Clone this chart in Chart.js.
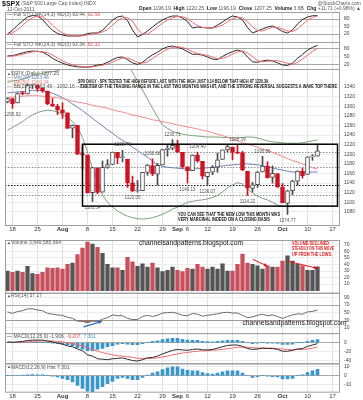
<!DOCTYPE html>
<html lang="en">
<head>
<meta charset="UTF-8">
<meta name="viewport" content="width=device-width, initial-scale=1">
<title>$SPX Daily | StockCharts</title>
<style>
	html, body { margin: 0; padding: 0; background: #fff; }
	#board { position: relative; width: 363px; height: 400px; overflow: hidden; }
	#board canvas { position: absolute; left: 0; }
</style>
</head>
<body>
<script src="https://cdn.jsdelivr.net/npm/chart.js@4.4.1/dist/chart.umd.min.js"></script>
<div id="board">
	<canvas id="upperChart" width="363" height="236" style="top:0;width:363px;height:236px"></canvas>
	<canvas id="lowerChart" width="363" height="167" style="top:233px;width:363px;height:167px"></canvas>
</div>
<script>
// trading days (plus a few empty future days on the right)
const days = ['7/15','7/18','7/19','7/20','7/21','7/22','7/25','7/26','7/27','7/28','7/29',
	'8/1','8/2','8/3','8/4','8/5','8/8','8/9','8/10','8/11','8/12','8/15','8/16','8/17','8/18','8/19',
	'8/22','8/23','8/24','8/25','8/26','8/29','8/30','8/31',
	'9/1','9/2','9/6','9/7','9/8','9/9','9/12','9/13','9/14','9/15','9/16','9/19','9/20','9/21','9/22','9/23',
	'9/26','9/27','9/28','9/29','9/30',
	'10/3','10/4','10/5','10/6','10/7','10/10','10/11','10/12','10/13','10/14','10/17','10/18']
const markDays = ['7/18','7/25','8/1','8/8','8/15','8/22','8/29','9/1','9/6','9/12','9/19','9/26','10/3','10/10','10/17']
const markText = ['18','25','Aug','8','15','22','29','Sep','6','12','19','26','Oct','10','17']

const prevClose = 1308.87
const openP = [1308.87,1315.94,1307.07,1328.66,1325.65,1343.80,1344.32,1337.39,1331.91,1304.84,
	1300.12,1292.59,1286.56,1254.25,1260.23,1200.28,1198.48,1120.23,1171.77,1121.30,
	1172.87,1178.86,1204.22,1192.89,1189.62,1140.47,1123.55,1124.36,1162.16,1176.69,
	1158.85,1177.91,1209.76,1213.00,1219.12,1203.90,1173.97,1165.85,1197.98,1185.37,
	1153.50,1162.59,1173.32,1189.44,1209.21,1214.99,1204.50,1203.63,1164.55,1128.82,
	1136.91,1163.32,1175.39,1151.74,1159.93,1131.21,1097.42,1124.03,1144.11,1165.03,
	1158.15,1194.60,1196.19]
const highP = [1317.70,1315.94,1328.14,1330.43,1347.00,1346.10,1344.32,1338.51,1331.91,1316.32,
	1304.16,1307.38,1286.56,1261.20,1260.23,1218.11,1198.48,1172.88,1171.77,1186.29,
	1189.04,1204.49,1204.22,1208.47,1189.62,1154.54,1145.49,1162.35,1178.56,1190.68,
	1181.23,1210.28,1220.10,1230.71,1229.29,1203.90,1173.97,1198.62,1204.40,1185.37,
	1162.52,1176.41,1202.38,1209.11,1220.06,1214.99,1220.39,1206.30,1164.55,1141.72,
	1164.19,1195.86,1184.71,1175.87,1159.93,1138.99,1125.12,1146.07,1165.55,1171.40,
	1194.91,1199.24,1220.25]
const lowP = [1307.04,1295.92,1307.07,1323.65,1325.65,1336.95,1331.09,1329.10,1303.49,1299.16,
	1282.86,1274.73,1254.03,1234.56,1199.54,1168.09,1119.28,1101.54,1118.01,1121.30,
	1170.74,1178.86,1180.53,1184.36,1131.03,1122.05,1121.09,1124.36,1156.30,1155.47,
	1135.91,1177.91,1195.77,1209.35,1203.85,1170.56,1140.13,1165.85,1183.34,1148.37,
	1136.07,1157.44,1162.73,1189.44,1204.46,1188.36,1201.29,1166.21,1114.22,1121.36,
	1131.07,1163.32,1150.40,1139.93,1131.34,1098.92,1074.77,1115.68,1134.95,1150.26,
	1158.15,1187.30,1196.19]
const closeP = [1316.14,1305.44,1326.73,1325.84,1343.80,1345.02,1337.43,1331.94,1304.89,1300.67,
	1292.28,1286.94,1254.05,1260.34,1200.07,1199.38,1119.46,1172.53,1120.76,1172.64,
	1178.81,1204.49,1192.76,1193.89,1140.65,1123.53,1123.82,1162.35,1177.60,1159.27,
	1176.80,1210.08,1212.92,1218.89,1204.42,1173.97,1165.24,1198.62,1185.90,1154.23,
	1162.27,1172.87,1188.68,1209.11,1216.01,1204.09,1202.09,1166.76,1129.56,1136.43,
	1162.95,1175.38,1151.06,1160.40,1131.42,1099.23,1123.95,1144.03,1164.97,1155.46,
	1194.89,1195.54,1207.25]

const ma20 = [1328,1329,1330,1331,1332,1333,1334,1332,1330,1327,1323,1318,1312,1305,1298,1291,1283,1275,1267,1259,
	1251,1244,1236,1229,1223,1215,1208,1201,1194,1186,1178,1175,1173,1172,1171,1170,1169,1169,1170,1171,
	1172,1173,1174,1176,1177,1178,1179,1180,1180,1179,1178,1176,1174,1172,1169,1167,1165,1163,1163,1163,
	1163,1163,1163.46]
const ma50 = [1318,1319,1320,1321,1322,1322,1322,1321,1320,1319,1318,1316,1314,1311,1309,1307,1305,1302,1300,1298,
	1296,1293,1290,1288,1285,1282,1280,1277,1275,1272,1270,1268,1266,1264,1261,1259,1257,1255,1253,1250,
	1248,1245,1242,1239,1236,1232,1228,1224,1221,1218,1215,1211,1208,1204,1200,1195,1191,1187,1184,1180,
	1176,1172,1169.34]
const bbUpper = [1352,1353,1354,1356,1360,1364,1367,1369,1371,1372,1374,1378,1384,1392,1400,1410,1420,1425,1428,1428,
	1425,1418,1408,1398,1385,1371,1352,1334,1315,1296,1278,1261,1254,1248,1244,1242,1240,1239,1238,1237,
	1236,1236,1236,1235,1235,1234,1234,1235,1236,1236,1234,1231,1228,1226,1225,1224,1223,1223,1223,1224,
	1226,1228,1230.12]
const bbLower = [1250,1256,1262,1268,1276,1282,1287,1290,1292,1291,1288,1283,1277,1268,1257,1235,1205,1170,1145,1115,
	1100,1090,1082,1076,1071,1068,1066,1065,1066,1068,1071,1075,1080,1086,1090,1095,1100,1102,1104,1105,
	1107,1110,1114,1122,1130,1136,1141,1138,1128,1119,1113,1108,1105,1100,1094,1092,1091,1091,1092,1092,
	1092,1092,1092.16]

const stoK1 = [20,35,55,72,88,94,92,78,55,35,22,16,12,12,12,14,22,24,24,35,55,76,88,92,74,36,8,18,32,48,
	64,76,86,92,92,84,70,44,48,46,44,44,56,68,82,92,88,76,46,24,32,40,48,52,42,30,24,36,60,78,88,93,93.44]
const stoD1 = [18,25,37,54,72,85,91,88,75,56,37,24,17,13,12,13,16,20,23,28,38,55,73,85,85,72,40,20,20,33,
	48,63,75,85,90,89,82,66,54,46,46,44,48,56,69,81,87,85,69,49,34,32,40,47,47,40,32,30,40,58,75,86,92.58]
const stoK2 = [54,55,60,65,70,72,71,68,58,45,35,27,20,16,13,12,12,15,20,22,30,40,48,50,40,28,22,30,45,58,
	68,80,88,91,86,80,70,60,60,57,50,42,40,52,62,70,76,70,50,32,30,35,38,35,28,20,18,27,45,60,75,86,93.34]
const stoD2 = [52,53,56,60,65,69,71,70,66,57,46,36,27,21,16,14,12,13,16,19,24,31,39,46,46,39,30,27,32,44,
	57,69,79,86,88,86,79,70,63,59,56,50,44,45,51,61,69,72,65,51,37,32,34,36,36,32,26,22,30,42,57,71,82.32]

// volume in units of 100M shares
const volume = [30,28,30,28,37,26,25,28,35,34,35,33,40,42,55,65,74,71,66,57,40,35,35,31,51,44,37,41,36,42,
	35,29,31,36,31,29,34,33,40,36,33,36,33,41,30,30,40,56,42,40,38,33,38,36,36,45,53,45,40,38,31,31,36.49585664]
const rsi = [52,48,53,55,60,60,57,55,48,46,44,43,38,35,28,27,24,28,27,33,37,44,42,42,35,32,32,40,43,40,
	43,49,50,51,48,43,42,48,46,41,43,45,47,50,51,49,49,43,37,39,43,46,42,44,40,35,40,44,47,46,52,53,57.17]
const macdLine = [2,1,2,3,5,6,6,6,4,2,-1,-3,-7,-9,-14,-18,-27,-30,-36,-37,-38,-36,-35,-34,-37,-40,-41,-38,-34,-33,
	-30,-25,-21,-17,-15,-16,-17,-15,-14,-16,-16,-15,-12,-9,-6,-5,-5,-8,-13,-15,-14,-12,-13,-13,-15,-19,-19,-17,-14,-13,
	-8,-5,-1.906]
const macdSignal = [1,1,1,1.5,2,3,3.5,4,4,4,3,2,0,-2,-4,-7,-11,-15,-19,-22,-25,-27,-29,-30,-31,-33,-35,-35,-35,-35,
	-34,-32,-30,-27,-25,-23,-22,-20,-19,-18,-18,-17,-16,-15,-13,-12,-10,-10,-10,-11,-12,-12,-12,-12,-13,-14,-15,-16,-15,-15,
	-14,-12,-9.207]
const macdHist = [0.3,0.5,0.5,0.8,1,1.2,1,1,0.3,-0.5,-1.5,-3,-4.5,-7,-11,-14.5,-17.5,-18,-15,-12.5,-9,-6.5,-3,-2,-3,-4.5,-4.5,-2,0.8,3,
	4.5,7,9,10,10,7.5,6,5.5,5.5,3.5,2.5,2,3,4.5,5.5,5.5,5.5,3,0,-2,-1,0.3,-0.5,-1,-1.5,-3.5,-3.5,-3,0.3,1,
	3.5,5.5,7.301]

// marked highs and lows, and the drawn support levels
const labelDays = ['7/18','8/9','8/17','8/19','8/25','8/31','9/6','9/8','9/12','9/20','9/22','9/27','10/4']
const labelSide = ['low','low','high','low','high','high','low','high','low','high','low','high','low']
const levels = [1204.40, 1172.64, 1136.07, 1114.22]
const keyLevel = 1136.07

const FONT = '"Liberation Sans", Arial, sans-serif'
Chart.defaults.font.family = FONT
Chart.defaults.animation = false

const RED = '#cf1020'
const DARK = '#4a4a4a'
const markIdx = markDays.map(d => days.indexOf(d))
const idx = d => days.indexOf(d)

function runs(ctx, parts, x, y, align) {
	ctx.save()
	ctx.textBaseline = 'middle'
	ctx.textAlign = 'left'
	const fontOf = p => `${p[3] ? 'bold ' : ''}${p[2] || 5}px ${FONT}`
	let total = 0
	parts.forEach(p => { ctx.font = fontOf(p); total += ctx.measureText(p[0]).width })
	if(align === 'right') x -= total
	parts.forEach(p => {
		ctx.font = fontOf(p)
		ctx.fillStyle = p[1]
		ctx.fillText(p[0], x, y)
		x += ctx.measureText(p[0]).width
	})
	ctx.restore()
}

function say(ctx, s, x, y, o) {
	ctx.save()
	ctx.font = `${o.bold ? 'bold ' : ''}${o.size}px ${FONT}`
	ctx.fillStyle = o.color
	ctx.textAlign = o.align || 'left'
	ctx.textBaseline = 'middle'
	if(o.fit) ctx.fillText(s, x, y, o.fit)
	else ctx.fillText(s, x, y)
	ctx.restore()
}

function arrow(ctx, x1, y1, x2, y2, color, w) {
	const ang = Math.atan2(y2 - y1, x2 - x1), h = 4
	ctx.save()
	ctx.strokeStyle = color
	ctx.fillStyle = color
	ctx.lineWidth = w
	ctx.beginPath(); ctx.moveTo(x1, y1); ctx.lineTo(x2, y2); ctx.stroke()
	ctx.beginPath()
	ctx.moveTo(x2, y2)
	ctx.lineTo(x2 - h * Math.cos(ang - 0.45), y2 - h * Math.sin(ang - 0.45))
	ctx.lineTo(x2 - h * Math.cos(ang + 0.45), y2 - h * Math.sin(ang + 0.45))
	ctx.closePath(); ctx.fill()
	ctx.restore()
}

function frames(chart, ids) {
	const {ctx, chartArea: a} = chart
	ctx.save()
	ctx.strokeStyle = '#a0a0a0'
	ctx.lineWidth = 1
	ids.forEach(id => {
		const s = chart.scales[id]
		ctx.strokeRect(a.left + 0.5, Math.round(s.top) + 0.5, a.right - a.left - 1, s.bottom - s.top)
	})
	ctx.restore()
}

// keep every dataset inside its own panel
function clipToPanel(chart, args) {
	const {xScale, yScale} = args.meta
	const ctx = chart.ctx
	ctx.save()
	ctx.beginPath()
	ctx.rect(xScale.left, yScale.top, xScale.right - xScale.left, yScale.bottom - yScale.top)
	ctx.clip()
}

function dateAxis(h) {
	return {
		type: 'category',
		offset: true,
		afterFit: s => { s.height = h },
		border: { display: false },
		grid: {
			offset: false,
			drawTicks: false,
			color: c => markIdx.includes(c.index) ? '#e0e0e0' : 'rgba(0,0,0,0)'
		},
		ticks: {
			autoSkip: false,
			maxRotation: 0,
			padding: 1,
			color: '#333',
			font: c => ({ size: 6, weight: /[A-Z]/.test(markText[markIdx.indexOf(c.index)] || '') ? 'bold' : 'normal' }),
			callback: (v, i) => {
				const k = markIdx.indexOf(i)
				return k < 0 ? '' : markText[k]
			}
		}
	}
}

function panelAxis(weight, min, max, tickVals, strong) {
	return {
		type: 'linear',
		position: 'right',
		stack: 'panels',
		stackWeight: weight,
		min: min,
		max: max,
		afterBuildTicks: s => { s.ticks = tickVals.map(v => ({ value: v })) },
		afterFit: s => { s.width = 23 },
		border: { display: false },
		grid: {
			drawTicks: false,
			color: c => c.tick && strong.includes(c.tick.value) ? '#a8a8a8' : '#ececec'
		},
		ticks: { autoSkip: false, font: { size: 5 }, color: '#444', padding: 4, callback: v => String(v) }
	}
}

const line = (data, color, yAxisID, extra) => Object.assign({
	type: 'line', data, yAxisID, borderColor: color, borderWidth: 1,
	pointRadius: 0, tension: 0, fill: false, order: 5
}, extra || {})

const candleColor = closeP.map((c, i) => c < (i ? closeP[i - 1] : prevClose) ? RED : DARK)
const hollow = closeP.map((c, i) => c >= openP[i])

const upperDecor = {
	id: 'upperDecor',
	beforeDatasetDraw: clipToPanel,
	afterDatasetDraw: chart => chart.ctx.restore(),
	beforeDatasetsDraw(chart) {
		const {ctx, chartArea: a, scales: {yPrice}} = chart
		ctx.save()
		ctx.lineWidth = 1
		ctx.setLineDash([1.5, 1.5])
		levels.forEach(v => {
			const y = Math.round(yPrice.getPixelForValue(v)) + 0.5
			ctx.strokeStyle = v === keyLevel ? '#1a1a1a' : '#8c8c8c'
			ctx.beginPath(); ctx.moveTo(a.left, y); ctx.lineTo(a.right, y); ctx.stroke()
		})
		ctx.restore()
	},
	afterDraw(chart) {
		const {ctx, scales: {x, yS1, yS2, yPrice}, chartArea: a} = chart
		frames(chart, ['yS1', 'yS2', 'yPrice'])

		// trading range box
		ctx.save()
		ctx.strokeStyle = '#000'
		ctx.lineWidth = 1.5
		const bx1 = x.getPixelForValue(idx('8/5')), bx2 = x.getPixelForValue(idx('10/18'))
		const by1 = yPrice.getPixelForValue(1221), by2 = yPrice.getPixelForValue(1092)
		ctx.strokeRect(bx1, by1, bx2 - bx1, by2 - by1)
		ctx.restore()

		// high / low labels
		labelDays.forEach((d, k) => {
			const i = idx(d)
			const hi = labelSide[k] === 'high'
			const v = hi ? highP[i] : lowP[i]
			say(ctx, v.toFixed(2), x.getPixelForValue(i), yPrice.getPixelForValue(v) + (hi ? -5 : 6.5),
				{ size: 4.5, color: '#555', align: 'center' })
		})

		// comments
		say(ctx, 'SPX DAILY - SPX TESTED THE HIGH BEFORE LAST, WITH THE HIGH JUST 0.14 BELOW THAT HIGH AT 1220.39',
			x.getPixelForValue(14.1), yPrice.getPixelForValue(1352), { size: 4.6, bold: true, color: '#111', fit: 190 })
		say(ctx, '- THE TOP OF THE TRADING RANGE IN THE LAST TWO MONTHS WAS HIT, AND THE STRONG REVERSAL SUGGESTS A WAVE TOP THERE',
			x.getPixelForValue(14.1), yPrice.getPixelForValue(1340), { size: 4.6, bold: true, color: '#111', fit: 259 })
		say(ctx, 'YOU CAN SEE THAT THE NEW LOW THIS MONTH WAS',
			x.getPixelForValue(34.1), yPrice.getPixelForValue(1073.5), { size: 4.6, bold: true, color: '#111', fit: 102 })
		say(ctx, 'VERY MARGINAL INDEED ON A CLOSING BASIS',
			x.getPixelForValue(34.1), yPrice.getPixelForValue(1063), { size: 4.6, bold: true, color: '#111', fit: 92 })

		// panel legends
		const L = a.left + 2
		runs(ctx, [['\u2014', '#333'], [' Full STO %K(14,3) %D(3) ' + stoK1.at(-1).toFixed(2) + ', ', '#555'], [stoD1.at(-1).toFixed(2), '#e05050']], L, yS1.top + 3)
		runs(ctx, [['\u2014', '#333'], [' Full STO %K(24,3) %D(3) ' + stoK2.at(-1).toFixed(2) + ', ', '#555'], [stoD2.at(-1).toFixed(2), '#e05050']], L, yS2.top + 3)
		const pt = yPrice.top
		runs(ctx, [['\u25b2', '#555', 4], ['$SPX (Daily) ' + closeP.at(-1).toFixed(2), '#555']], L, pt + 4.5)
		runs(ctx, [['\u2014 MA(20) ' + ma20.at(-1).toFixed(2), '#6d7db0']], L, pt + 9)
		runs(ctx, [['\u2014 MA(50) ' + ma50.at(-1).toFixed(2), '#ec7d7d']], L, pt + 13.5)
		runs(ctx, [['\u2014', '#7aa27a'], [' BB(20,2) ' + ma20.at(-1).toFixed(2) + ' - ' + bbLower.at(-1).toFixed(2) + ' - ' + bbUpper.at(-1).toFixed(2), '#555']], L, pt + 18)

		// header
		runs(ctx, [['$SPX', '#111', 7, true], [' (S&P 500 Large Cap Index) INDX', '#555', 5]], 2, 4)
		say(ctx, '12-Oct-2011', 7, 10, { size: 5, color: '#555' })
		say(ctx, '@StockCharts.com', 361, 3.5, { size: 5, color: '#555', align: 'right' })
		runs(ctx, [
			['Open ', '#222', 5, true], ['1196.19  ', '#555', 5],
			['High ', '#222', 5, true], ['1220.25  ', '#555', 5],
			['Low ', '#222', 5, true], ['1196.19  ', '#555', 5],
			['Close ', '#222', 5, true], ['1207.25  ', '#555', 5],
			['Volume ', '#222', 5, true], ['3.6B  ', '#555', 5],
			['Chg ', '#222', 5, true], ['+11.71 (+0.98%) \u25b2', '#555', 5]
		], 361, 8.5, 'right')
	}
}

const lowerDecor = {
	id: 'lowerDecor',
	beforeDatasetDraw: clipToPanel,
	afterDatasetDraw: chart => chart.ctx.restore(),
	afterDraw(chart) {
		const {ctx, scales: {x, yVol, yRsi, yMacd, yHist}, chartArea: a} = chart
		frames(chart, ['yVol', 'yRsi', 'yMacd', 'yHist'])
		const L = a.left + 2
		runs(ctx, [['\u25b2', '#555', 4], ['Volume ' + Math.round(volume.at(-1) * 1e8).toLocaleString('en-US'), '#555']], L, yVol.top + 3)
		runs(ctx, [['\u25b2', '#555', 4], ['RSI(14) ' + rsi.at(-1).toFixed(2), '#555']], L, yRsi.top + 3)
		runs(ctx, [['\u2014', '#333'], [' MACD(12,26,9) ' + macdLine.at(-1).toFixed(3) + ', ', '#555'],
			[macdSignal.at(-1).toFixed(3) + ', ', '#e05050'], [macdHist.at(-1).toFixed(3), '#3b97c9']], L, yMacd.top + 4)
		runs(ctx, [['\u25b2', '#555', 4], ['MACD(12,26,9) Hist ' + macdHist.at(-1).toFixed(3), '#555']], L, yHist.top + 4)

		say(ctx, 'channelsandpatterns.blogspot.com', x.getPixelForValue(36.7), yVol.getPixelForValue(72),
			{ size: 6.8, color: '#111', align: 'center', fit: 104 })
		say(ctx, 'channelsandpatterns.blogspot.com', x.getPixelForValue(57.4), yRsi.getPixelForValue(23),
			{ size: 6.8, color: '#111', align: 'center', fit: 104 })

		const nx = x.getPixelForValue(56.9)
		say(ctx, 'VOLUME DECLINED', nx, yVol.getPixelForValue(71.5), { size: 4.6, bold: true, color: '#e01818', fit: 37 })
		say(ctx, 'STEADILY ON THIS MOVE', nx, yVol.getPixelForValue(64), { size: 4.6, bold: true, color: '#e01818', fit: 42 })
		say(ctx, 'UP FROM THE LOWS.', nx, yVol.getPixelForValue(55.5), { size: 4.6, bold: true, color: '#e01818', fit: 40 })

		arrow(ctx, x.getPixelForValue(49), yVol.getPixelForValue(48), x.getPixelForValue(52), yVol.getPixelForValue(37.5), '#e01818', 1)
		arrow(ctx, x.getPixelForValue(56), yVol.getPixelForValue(45), x.getPixelForValue(62), yVol.getPixelForValue(34), '#e01818', 1)
		arrow(ctx, x.getPixelForValue(15.2), yRsi.getPixelForValue(12.5), x.getPixelForValue(18.9), yRsi.getPixelForValue(27.5), '#2f6fc4', 1.3)
	}
}

new Chart(document.getElementById('upperChart'), {
	type: 'bar',
	data: {
		labels: days,
		datasets: [
			{ type: 'bar', data: openP.map((o, i) => [o, closeP[i]]), yAxisID: 'yPrice',
				backgroundColor: hollow.map((h, i) => h ? '#fff' : candleColor[i]), borderColor: candleColor,
				borderWidth: 1, borderSkipped: false, barThickness: 4, minBarLength: 1, grouped: false, order: 0 },
			{ type: 'bar', data: lowP.map((l, i) => [l, highP[i]]), yAxisID: 'yPrice',
				backgroundColor: candleColor, borderWidth: 0, barThickness: 1, grouped: false, order: 1 },
			line(ma50, '#ef8a8a', 'yPrice'),
			line(ma20, '#7080b2', 'yPrice'),
			line(bbUpper, '#7aa27a', 'yPrice'),
			line(bbLower, '#7aa27a', 'yPrice'),
			line(stoD1, '#ee6a6a', 'yS1'),
			line(stoK1, '#2a2a2a', 'yS1'),
			line(stoD2, '#ee6a6a', 'yS2'),
			line(stoK2, '#2a2a2a', 'yS2')
		]
	},
	options: {
		responsive: false,
		devicePixelRatio: 1,
		layout: { padding: { top: 12, left: 5, right: 0, bottom: 0 } },
		plugins: { legend: { display: false }, tooltip: { enabled: false } },
		scales: {
			x: dateAxis(11),
			yS1: panelAxis(30, -12, 108, [20, 50, 80], [20, 80]),
			yS2: panelAxis(27, 5, 106, [20, 50, 80], [20, 80]),
			yPrice: panelAxis(156, 1052.7, 1377.7,
				[1080, 1100, 1120, 1140, 1160, 1180, 1200, 1220, 1240, 1260, 1280, 1300, 1320, 1340], [])
		}
	},
	plugins: [upperDecor]
})

new Chart(document.getElementById('lowerChart'), {
	type: 'bar',
	data: {
		labels: days,
		datasets: [
			{ type: 'bar', data: volume, yAxisID: 'yVol', grouped: false, barThickness: 3.6,
				backgroundColor: closeP.map((c, i) => c < (i ? closeP[i - 1] : prevClose) ? '#c8505c' : '#555555') },
			line(rsi, '#6a6a6a', 'yRsi', { fill: { target: { value: 30 }, above: 'rgba(0,0,0,0)', below: 'rgba(140,70,60,0.85)' } }),
			line(macdSignal, '#ee6a6a', 'yMacd', { order: 1 }),
			line(macdLine, '#2a2a2a', 'yMacd', { order: 0 }),
			{ type: 'bar', data: macdHist, yAxisID: 'yMacd', grouped: false, barThickness: 3, backgroundColor: '#3b97c9', order: 6 },
			{ type: 'bar', data: macdHist, yAxisID: 'yHist', grouped: false, barThickness: 3, backgroundColor: '#3b97c9' }
		]
	},
	options: {
		responsive: false,
		devicePixelRatio: 1,
		layout: { padding: { top: 0, left: 5, right: 0, bottom: 0 } },
		plugins: { legend: { display: false }, tooltip: { enabled: false } },
		scales: {
			x: dateAxis(8),
			yVol: panelAxis(55, -2.9, 77.3, [10, 20, 30, 40, 50, 60, 70], []),
			yRsi: panelAxis(42, -2.5, 102.5, [10, 30, 50, 70, 90], [30, 70]),
			yMacd: panelAxis(32, -46.2, 22.6, [-40, -20, 0], [0]),
			yHist: panelAxis(30, -18.5, 14.1, [-10, 0, 10], [0])
		}
	},
	plugins: [lowerDecor]
})
</script>
</body>
</html>
